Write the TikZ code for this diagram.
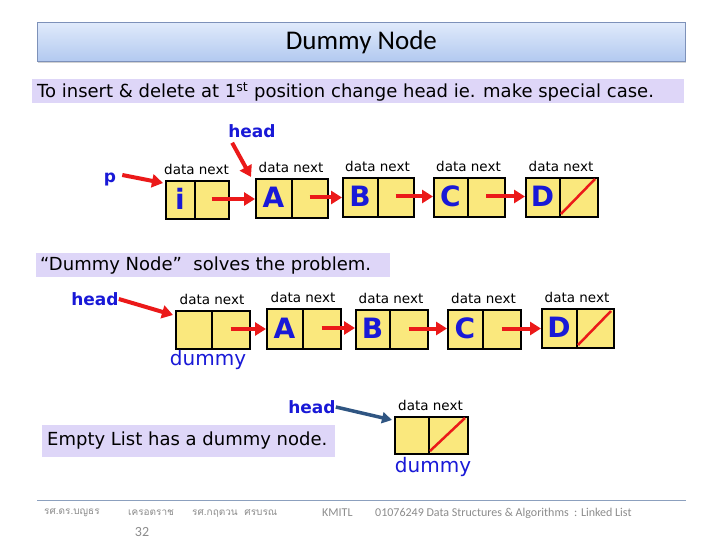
\documentclass[tikz,border=0pt]{standalone}
\usepackage{fontspec}
\setmainfont{DejaVu Sans}
\newfontfamily\calib{Carlito}
\newfontfamily\thaifont[Script=Thai]{Loma}
\usetikzlibrary{arrows.meta,calc,shadows}
\definecolor{cellyellow}{RGB}{250,232,125}
\definecolor{labblue}{RGB}{25,25,215}
\definecolor{arrred}{RGB}{235,25,25}
\definecolor{bandlav}{RGB}{222,214,248}
\definecolor{titletop}{RGB}{224,234,251}
\definecolor{titlebot}{RGB}{178,201,240}
\definecolor{titleedge}{RGB}{125,145,185}
\definecolor{darrow}{RGB}{47,85,130}
\definecolor{footgray}{RGB}{140,140,140}
\definecolor{footline}{RGB}{140,160,190}
\newcommand\llnode[7]{%
  \node[lbox, anchor=north west, minimum width=#4-#2, minimum height=#5-#3] (#1) at (#2,#3) {};
  \draw[divider] (#6,#3) -- (#6,#5);
  \node[letter] (#1l) at ({(#2+#6)/2},{(#3+#5)/2}) {#7};
  \coordinate (#1n) at ({#6+(#4-#6)*0.5},{(#3+#5)/2});
  \node[dn] (#1t) at ({(#2+#4)/2},{#3-11}) {data next};
}
\begin{document}
\begin{tikzpicture}[x=1pt,y=-1pt,
  lbox/.style={draw=black, line width=2.4pt, fill=cellyellow, inner sep=0pt, rectangle},
  divider/.style={line width=1.3pt},
  letter/.style={text=labblue, font=\bfseries\fontsize{28}{28}\selectfont, inner sep=0pt},
  dn/.style={font=\fontsize{13.5}{13.5}\selectfont, inner sep=0pt},
  ptr/.style={draw=arrred, line width=4pt, -{Triangle[length=11pt,width=13pt]}},
  bptr/.style={draw=darrow, line width=3.5pt, -{Triangle[length=10pt,width=11pt]}},
  nilslash/.style={draw=arrred, line width=2.5pt},
  band/.style={fill=bandlav, inner sep=0pt, anchor=north west},
  bandtext/.style={anchor=west, inner sep=0pt},
  ptrlab/.style={text=labblue, font=\bfseries\fontsize{17}{17}\selectfont, inner sep=0pt},
  dumlab/.style={text=labblue, font=\fontsize{20}{20}\selectfont, inner sep=0pt},
  foot/.style={text=footgray, font=\calib\fontsize{12}{12}\selectfont, anchor=west, inner sep=0pt},
  footthai/.style={text=footgray, font=\thaifont\fontsize{10}{10}\selectfont, anchor=west, inner sep=0pt}]
\useasboundingbox (0,0) rectangle (720,540);
\fill[white] (0,0) rectangle (720,540);

% title
\node[draw=titleedge, line width=0.8pt, top color=titletop, bottom color=titlebot,
  drop shadow={opacity=0.35, shadow xshift=1pt, shadow yshift=-2pt},
  anchor=north west, minimum width=648, minimum height=39, inner sep=0pt,
  font=\calib\fontsize{27}{27}\selectfont] (title) at (37,22) {Dummy Node};

% band 1
\node[band, minimum width=652, minimum height=24] (band1) at (32,79) {};
\node[bandtext, font=\fontsize{18}{18}\selectfont] (s1) at (37,92)
  {To insert \& delete at 1\textsuperscript{st} position change head ie. make special case.};

% row 1
\llnode{i1}{165}{180}{228}{218}{195}{i}
\llnode{a1}{255}{178}{327}{217}{292}{A}
\llnode{b1}{342}{177}{413}{216}{378}{B}
\llnode{c1}{433}{177}{504}{216}{468}{C}
\llnode{d1}{525}{177}{597}{216}{560}{D}
\draw[ptr] (i1n) -- (i1n -| a1.west);
\draw[ptr] (a1n) -- (a1n -| b1.west);
\draw[ptr] (b1n) -- (b1n -| c1.west);
\draw[ptr] (c1n) -- (c1n -| d1.west);
\draw[nilslash] (561,214) -- (595,179);
\node[ptrlab] (p) at (110,180) {p};
\draw[ptr] ($(p.east)+(6,-5)$) -- ($(i1.north west)+(-2,3)$);
\node[ptrlab] (h1) at (252,131) {head};
\draw[ptr] ($(h1.south west)+(4,5)$) -- ($(a1.north west)+(-4,-1)$);

% band 2
\node[band, minimum width=354, minimum height=24] (band2) at (36,253) {};
\node[bandtext, font=\fontsize{18}{18}\selectfont] (s2) at (40,266)
  {“Dummy Node”\ \ solves the problem.};

% row 2
\llnode{u2}{175}{310}{249}{348}{212}{}
\llnode{a2}{266}{308}{340}{348}{303}{A}
\llnode{b2}{355}{309}{427}{348}{390}{B}
\llnode{c2}{447}{309}{520}{348}{483}{C}
\llnode{d2}{541}{308}{613}{347}{577}{D}
\draw[ptr] (u2n) -- (u2n -| a2.west);
\draw[ptr] (a2n) -- (a2n -| b2.west);
\draw[ptr] (b2n) -- (b2n -| c2.west);
\draw[ptr] (c2n) -- (c2n -| d2.west);
\draw[nilslash] (578,345) -- (611,311);
\node[ptrlab] (h2) at (95,299) {head};
\draw[ptr] (h2.east) -- ($(u2.north west)+(-2,5)$);
\node[dumlab] (dm2) at (208,360) {dummy};

% band 3 and empty list
\node[band, minimum width=293, minimum height=32] (band3) at (42,425) {};
\node[bandtext, font=\fontsize{18}{18}\selectfont] (s3) at (47,441)
  {Empty List has a dummy node.};
\llnode{e3}{394}{416}{467}{453}{429}{}
\draw[nilslash] (430,451) -- (465,418);
\node[ptrlab] (h3) at (312,407) {head};
\draw[bptr] (h3.east) -- ($(e3.north west)+(-2,4)$);
\node[dumlab] (dm3) at (433,467) {dummy};

% footer
\draw[footline, line width=0.8pt] (37,500) -- (686,500);
\node[footthai] (f1) at (44,513) {รศ.ดร.บญธร};
\node[footthai] (f2) at (128,513) {เครอตราช};
\node[footthai] (f3) at (192,513) {รศ.กฤตวน\ \ ศรบรณ};
\node[foot] (f4) at (322,513) {KMITL};
\node[foot] (f5) at (375,513) {01076249 Data Structures \& Algorithms\ \ : Linked List};
\node[text=footgray, font=\calib\fontsize{14}{14}\selectfont, inner sep=0pt] (pg) at (142,532) {32};
\end{tikzpicture}
\end{document}
